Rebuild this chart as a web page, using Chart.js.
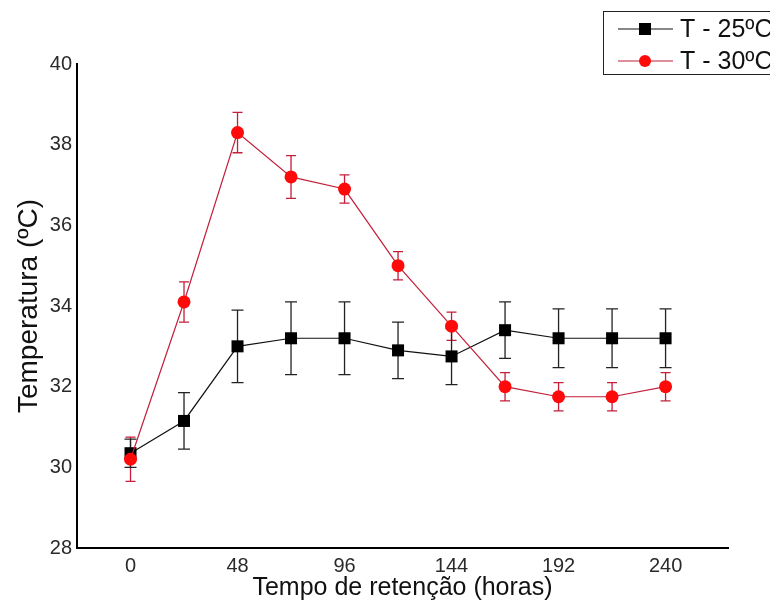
<!DOCTYPE html>
<html>
<head>
<meta charset="utf-8">
<script src="https://cdn.jsdelivr.net/npm/chart.js@4/dist/chart.umd.min.js"></script>
<style>
    body { margin: 0; background: #fff; }
    #wrap { width: 770px; height: 603px; }
</style>
</head>
<body>
<div id="wrap"><canvas id="tempChart" width="770" height="603"></canvas></div>
<script>
const hours = [0, 24, 48, 72, 96, 120, 144, 168, 192, 216, 240];
const temp25 = [30.35, 31.15, 33.0, 33.2, 33.2, 32.9, 32.75, 33.4, 33.2, 33.2, 33.2];
const err25 = [0.35, 0.7, 0.9, 0.9, 0.9, 0.7, 0.7, 0.7, 0.73, 0.73, 0.73];
const temp30 = [30.2, 34.1, 38.3, 37.2, 36.9, 35.0, 33.5, 32.0, 31.75, 31.75, 32.0];
const err30 = [0.55, 0.5, 0.5, 0.53, 0.35, 0.35, 0.35, 0.35, 0.35, 0.35, 0.35];
const xTicks = [0, 48, 96, 144, 192, 240];
const seriesNames = ["T - 25ºC", "T - 30ºC"];

const FONT = "'Liberation Sans', Arial, sans-serif";
const RED = "#ff0a0a";
const RED_LINE = "#c41e3a";

// error bars, drawn under the lines and markers
const errorBars = {
    id: "errorBars",
    beforeDatasetsDraw(chart) {
        const { ctx, scales } = chart;
        chart.data.datasets.forEach((ds) => {
            ctx.save();
            ctx.strokeStyle = ds.errColor;
            ctx.lineWidth = 1.3;
            ds.data.forEach((p, i) => {
                const x = scales.x.getPixelForValue(p.x);
                const yTop = scales.y.getPixelForValue(p.y + ds.errors[i]);
                const yBot = scales.y.getPixelForValue(p.y - ds.errors[i]);
                const cap = ds.capHalf;
                ctx.beginPath();
                ctx.moveTo(x, yTop);
                ctx.lineTo(x, yBot);
                ctx.moveTo(x - cap, yTop);
                ctx.lineTo(x + cap, yTop);
                ctx.moveTo(x - cap, yBot);
                ctx.lineTo(x + cap, yBot);
                ctx.stroke();
            });
            ctx.restore();
        });
    },
};

// boxed legend in the top right corner
const boxLegend = {
    id: "boxLegend",
    afterDraw(chart) {
        const ctx = chart.ctx;
        ctx.save();
        ctx.strokeStyle = "#222";
        ctx.lineWidth = 1;
        ctx.strokeRect(603.5, 11.5, 180, 63);
        const rows = [
            { y: 29, line: "#111", fill: "#000", shape: "rect", text: seriesNames[0] },
            { y: 61, line: RED_LINE, fill: RED, shape: "circle", text: seriesNames[1] },
        ];
        rows.forEach((r) => {
            ctx.strokeStyle = r.line;
            ctx.lineWidth = 1.2;
            ctx.beginPath();
            ctx.moveTo(618, r.y);
            ctx.lineTo(673, r.y);
            ctx.stroke();
            ctx.fillStyle = r.fill;
            if (r.shape === "rect") {
                ctx.fillRect(639, r.y - 6, 12, 12);
            } else {
                ctx.beginPath();
                ctx.arc(645, r.y, 6, 0, Math.PI * 2);
                ctx.fill();
            }
            ctx.fillStyle = "#111";
            ctx.font = "25px " + FONT;
            ctx.textBaseline = "middle";
            ctx.textAlign = "left";
            ctx.fillText(r.text, 680, r.y + 1);
        });
        ctx.restore();
    },
};

new Chart(document.getElementById("tempChart"), {
    type: "line",
    data: {
        datasets: [
            {
                label: seriesNames[1],
                data: hours.map((h, i) => ({ x: h, y: temp30[i] })),
                errors: err30,
                errColor: RED_LINE,
                capHalf: 5,
                borderColor: RED_LINE,
                borderWidth: 1.2,
                pointStyle: "circle",
                pointRadius: 6.5,
                pointBackgroundColor: RED,
                pointBorderColor: RED,
                pointBorderWidth: 0,
                tension: 0,
            },
            {
                label: seriesNames[0],
                data: hours.map((h, i) => ({ x: h, y: temp25[i] })),
                errors: err25,
                errColor: "#222",
                capHalf: 6,
                borderColor: "#111",
                borderWidth: 1.2,
                pointStyle: "rect",
                pointRadius: 8.5,
                pointBackgroundColor: "#000",
                pointBorderColor: "#000",
                pointBorderWidth: 0,
                tension: 0,
            },
        ],
    },
    options: {
        responsive: false,
        animation: false,
        layout: { padding: { left: 0, right: 42, top: 64, bottom: 0 } },
        plugins: {
            legend: { display: false },
            tooltip: { enabled: false },
        },
        scales: {
            x: {
                type: "linear",
                min: -24,
                max: 268,
                afterBuildTicks: (scale) => {
                    scale.ticks = xTicks.map((v) => ({ value: v }));
                },
                afterFit: (scale) => {
                    scale.height = 55;
                },
                grid: { display: false, drawTicks: false },
                border: { display: true, color: "#000", width: 2 },
                ticks: {
                    padding: 6,
                    color: "#2a2a2a",
                    font: { family: FONT, size: 20 },
                },
                title: {
                    display: true,
                    text: "Tempo de retenção (horas)",
                    color: "#111",
                    font: { family: FONT, size: 25, lineHeight: 1.2 },
                    padding: { top: 0, bottom: 0 },
                },
            },
            y: {
                min: 28,
                max: 40,
                afterFit: (scale) => {
                    scale.width = 77;
                },
                grid: { display: false, drawTicks: false },
                border: { display: true, color: "#000", width: 2 },
                ticks: {
                    stepSize: 2,
                    padding: 5,
                    color: "#2a2a2a",
                    font: { family: FONT, size: 20 },
                },
                title: {
                    display: true,
                    text: "Temperatura (ºC)",
                    color: "#111",
                    font: { family: FONT, size: 28, lineHeight: 1.2 },
                    padding: { top: 12, bottom: 0 },
                },
            },
        },
    },
    plugins: [errorBars, boxLegend],
});
</script>
</body>
</html>
